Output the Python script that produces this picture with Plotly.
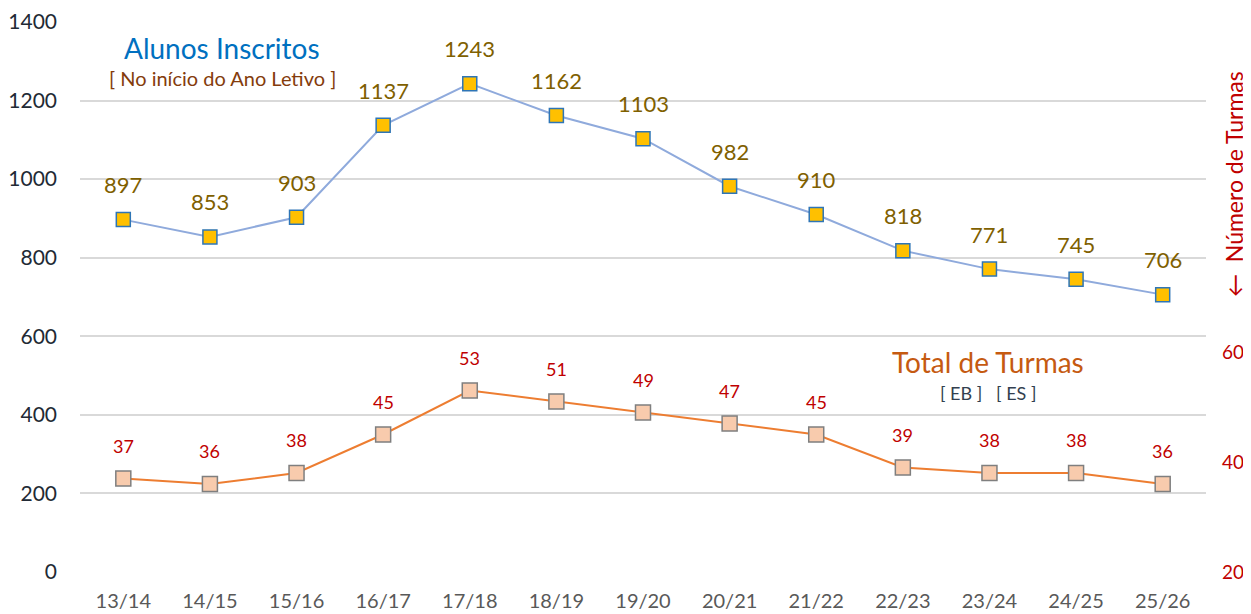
import plotly.graph_objects as go

categories = ["13/14", "14/15", "15/16", "16/17", "17/18", "18/19", "19/20",
              "20/21", "21/22", "22/23", "23/24", "24/25", "25/26"]
alunos = [897, 853, 903, 1137, 1243, 1162, 1103, 982, 910, 818, 771, 745, 706]
turmas = [37, 36, 38, 45, 53, 51, 49, 47, 45, 39, 38, 38, 36]

FONT = "Lato"

fig = go.Figure()
fig.add_trace(go.Scatter(
    x=categories, y=alunos, mode="lines+markers", yaxis="y",
    line=dict(color="#8FAADC", width=2),
    marker=dict(symbol="square", size=14, color="#FFC000",
                line=dict(color="#2E75B6", width=1.5)),
    hoverinfo="x+y", showlegend=False))
fig.add_trace(go.Scatter(
    x=categories, y=turmas, mode="lines+markers", yaxis="y2",
    line=dict(color="#ED7D31", width=2),
    marker=dict(symbol="square", size=15, color="#F8CBAD",
                line=dict(color="#7F7F7F", width=1.5)),
    hoverinfo="x+y", showlegend=False))

annotations = []
for c, v in zip(categories, alunos):
    annotations.append(dict(x=c, y=v, xref="x", yref="y", text=str(v),
                            showarrow=False, yshift=35,
                            font=dict(family=FONT, size=22, color="#7F6000")))
for c, v in zip(categories, turmas):
    annotations.append(dict(x=c, y=v, xref="x", yref="y2", text=str(v),
                            showarrow=False, yshift=33,
                            font=dict(family=FONT, size=18, color="#C00000")))

# page offset (browser body margin)
OFF = 8
W, H = 1243, 606
L, R, T, B = 72, 45, 14, 42
pw, ph = W - L - R, H - T - B

boxes = [
    dict(x=222, y=48, text="Alunos Inscritos",
         font=dict(family=FONT, size=28, color="#0070C0")),
    dict(x=222, y=78, text="[ No início do Ano Letivo ]",
         font=dict(family=FONT, size=20, color="#843C0C")),
    dict(x=988, y=362, text="Total de Turmas",
         font=dict(family=FONT, size=28, color="#C55A11")),
    dict(x=988, y=393, text="[ EB ]   [ ES ]",
         font=dict(family=FONT, size=18, color="#333F50")),
    dict(x=1234, y=184, text="←  Número de Turmas", textangle=-90,
         font=dict(family=FONT, size=23, color="#C00000")),
]
for a in boxes:
    a.update(xref="paper", yref="paper", showarrow=False,
             xanchor="center", yanchor="middle",
             x=(a["x"] - OFF - L) / pw, y=1 - (a["y"] - OFF - T) / ph)
annotations += boxes

fig.update_layout(
    width=W, height=H,
    margin=dict(l=L, r=R, t=T, b=B, autoexpand=False),
    plot_bgcolor="white", paper_bgcolor="white",
    font=dict(family=FONT),
    annotations=annotations,
    xaxis=dict(type="category", range=[-0.5, len(categories) - 0.5],
               showgrid=False, showline=False, zeroline=False,
               tickfont=dict(family=FONT, size=20, color="#595959"),
               ticks="", ticklabelstandoff=15, automargin=False),
    yaxis=dict(range=[0, 1400], tickvals=[0, 200, 400, 600, 800, 1000, 1200, 1400],
               showgrid=True, gridcolor="#D9D9D9", gridwidth=1.5, zeroline=False,
               tickfont=dict(family=FONT, size=21, color="#222A35"),
               ticks="", ticklabelstandoff=22, automargin=False),
    yaxis2=dict(range=[20, 120], tickvals=[20, 40, 60], overlaying="y", side="right",
                showgrid=False, zeroline=False,
                tickfont=dict(family=FONT, size=19, color="#C00000"),
                ticks="", ticklabelstandoff=15, automargin=False),
)

fig.write_html("out.html")
